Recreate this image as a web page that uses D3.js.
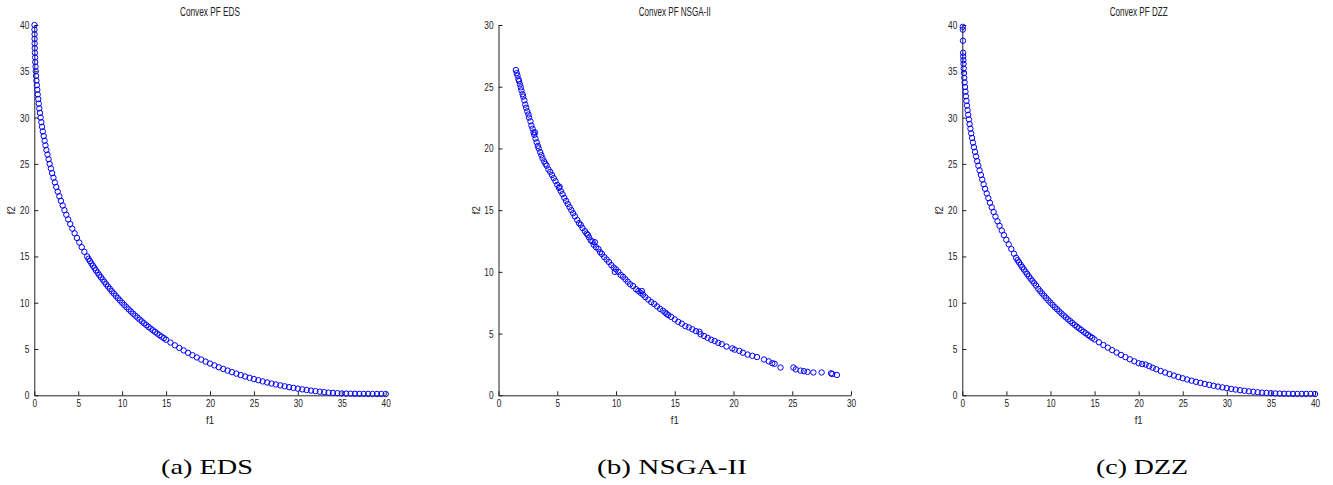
<!DOCTYPE html>
<html>
<head>
<meta charset="utf-8">
<script src="https://cdn.jsdelivr.net/npm/d3@7"></script>
<style>
    body { margin: 0; background: #fff; }
    svg { display: block; }
    .tick text { font-family: "Liberation Sans", Arial, sans-serif; font-size: 11px; fill: #222; }
    .domain, .tick line { stroke: #222; stroke-width: 1; }
    .lbl { font-family: "Liberation Sans", Arial, sans-serif; fill: #222; }
    .caption { font-family: "Liberation Serif", "DejaVu Serif", serif; font-size: 22px; fill: #000; }
</style>
</head>
<body>
<svg id="chart" width="1333" height="485"></svg>
<script>
const titles = ["Convex PF EDS", "Convex PF NSGA-II", "Convex PF DZZ"];
const captions = ["(a) EDS", "(b) NSGA-II", "(c) DZZ"];
const ticks_40 = [0, 5, 10, 15, 20, 25, 30, 35, 40];
const ticks_30 = [0, 5, 10, 15, 20, 25, 30];

// EDS front
const eds_f1 = [0.02,0.02,0.03,0.03,0.04,0.05,0.07,0.09,0.11,0.14,0.17,0.20,0.24,0.29,0.34,0.39,0.45,0.51,0.57,0.64,
    0.72,0.80,0.88,0.97,1.07,1.17,1.27,1.38,1.50,1.63,1.75,1.89,2.03,2.18,2.34,2.50,2.67,2.85,3.03,3.23,
    3.43,3.64,3.86,4.09,4.33,4.59,4.85,5.12,5.40,5.70,6.01,6.17,6.33,6.50,6.67,6.85,7.02,7.21,7.39,7.58,
    7.78,7.98,8.18,8.39,8.60,8.82,9.05,9.28,9.51,9.75,10.0,10.25,10.5,10.75,11.0,11.25,11.5,11.75,12.0,12.25,
    12.5,12.75,13.0,13.25,13.5,13.75,14.0,14.25,14.5,14.75,15.0,15.5,16.0,16.5,17.0,17.5,18.0,18.5,19.0,19.5,
    20.0,20.5,21.0,21.5,22.0,22.5,23.0,23.5,24.0,24.5,25.0,25.5,26.0,26.5,27.0,27.5,28.0,28.5,29.0,29.5,
    30.0,30.5,31.0,31.5,32.0,32.5,33.0,33.5,34.0,34.5,35.0,35.5,36.0,36.5,37.0,37.5,38.0,38.5,39.0,39.5,40.0];
const eds_f2 = [40.0,39.5,39.0,38.5,38.0,37.5,37.0,36.5,36.0,35.5,35.0,34.5,34.0,33.5,33.0,32.5,32.0,31.5,31.0,30.5,
    30.0,29.5,29.0,28.5,28.0,27.5,27.0,26.5,26.0,25.5,25.0,24.5,24.0,23.5,23.0,22.5,22.0,21.5,21.0,20.5,
    20.0,19.5,19.0,18.5,18.0,17.5,17.0,16.5,16.0,15.5,15.0,14.75,14.5,14.25,14.0,13.75,13.5,13.25,13.0,12.75,
    12.5,12.25,12.0,11.75,11.5,11.25,11.0,10.75,10.5,10.25,10.0,9.75,9.51,9.28,9.05,8.82,8.60,8.39,8.18,7.98,
    7.78,7.58,7.39,7.21,7.02,6.85,6.67,6.50,6.33,6.17,6.01,5.70,5.40,5.12,4.85,4.59,4.33,4.09,3.86,3.64,
    3.43,3.23,3.03,2.85,2.67,2.50,2.34,2.18,2.03,1.89,1.75,1.63,1.50,1.38,1.27,1.17,1.07,0.97,0.88,0.80,
    0.72,0.64,0.57,0.51,0.45,0.39,0.34,0.29,0.26,0.23,0.20,0.18,0.17,0.16,0.15,0.15,0.15,0.14,0.14,0.14,0.14];

// NSGA-II front, panel (b)
const nsga_points = [
    [1.48,26.35],[1.55,26.1],[1.62,25.9],[1.7,25.6],[1.75,25.45],[1.82,25.2],[1.9,24.95],[1.95,24.7],[2.05,24.4],[2.1,24.2],
    [2.2,23.9],[2.28,23.55],[2.35,23.3],[2.45,23.0],[2.55,22.75],[2.6,22.5],[2.72,22.2],[2.8,21.85],[2.9,21.6],[2.98,21.3],
    [3.05,21.1],[3.1,21.3],[3.15,20.8],[3.25,20.5],[3.35,20.2],[3.42,20.0],[3.55,19.7],[3.65,19.45],[3.75,19.2],[3.88,18.95],
    [4.0,18.75],[4.1,18.6],[4.25,18.3],[4.4,18.1],[4.55,17.85],[4.7,17.6],[4.85,17.35],[5.0,17.05],[5.15,16.8],[5.2,16.9],
    [5.3,16.55],[5.45,16.3],[5.6,16.0],[5.75,15.75],[5.9,15.5],[6.05,15.25],[6.2,15.0],[6.35,14.75],[6.5,14.5],[6.7,14.2],
    [6.85,13.95],[7.0,13.8],[7.15,13.55],[7.35,13.3],[7.5,13.1],[7.6,13.0],[7.7,12.8],[7.85,12.55],[8.0,12.45],[8.1,12.2],
    [8.2,12.4],[8.3,12.0],[8.5,11.85],[8.65,11.6],[8.8,11.45],[9.0,11.2],[9.2,11.0],[9.4,10.8],[9.6,10.55],[9.8,10.35],
    [9.9,10.0],[10.0,10.2],[10.2,10.0],[10.4,9.75],[10.6,9.6],[10.8,9.4],[11.0,9.2],[11.2,9.0],[11.45,8.85],[11.7,8.6],
    [11.9,8.45],[12.1,8.3],[12.2,8.45],[12.3,8.15],[12.5,7.95],[12.75,7.75],[13.0,7.55],[13.25,7.4],[13.5,7.2],[13.75,7.0],
    [14.0,6.85],[14.2,6.7],[14.3,6.6],[14.45,6.5],[14.7,6.35],[15.0,6.15],[15.3,5.95],[15.6,5.8],[15.9,5.6],[16.2,5.5],
    [16.5,5.35],[16.8,5.2],[17.1,5.15],[17.2,4.95],[17.5,4.8],[17.8,4.65],[18.1,4.5],[18.4,4.4],[18.7,4.25],[19.0,4.15],
    [19.4,3.95],[19.9,3.8],[20.1,3.7],[20.5,3.6],[20.8,3.45],[21.2,3.3],[21.6,3.2],[22.0,3.1],[22.6,2.9],[23.0,2.75],
    [23.3,2.6],[23.5,2.55],[24.0,2.25],[25.1,2.25],[25.3,2.1],[25.7,2.0],[26.0,1.95],[26.3,1.9],[26.8,1.85],[27.5,1.85],
    [28.3,1.78],[28.4,1.72],[28.8,1.65]];

// DZZ front, panel (c)
const dzz_points = [
    [0.05,39.8],[0.06,39.5],[0.08,38.3],[0.09,37.0],[0.10,36.6],[0.12,36.2],[0.14,35.8],[0.16,35.3],[0.19,34.8],[0.22,34.3],
    [0.26,33.8],[0.31,33.3],[0.36,32.8],[0.41,32.3],[0.47,31.8],[0.53,31.3],[0.60,30.8],[0.67,30.3],[0.75,29.8],[0.83,29.3],
    [0.92,28.8],[1.01,28.3],[1.11,27.8],[1.21,27.3],[1.32,26.8],[1.44,26.3],[1.56,25.8],[1.69,25.3],[1.82,24.8],[1.96,24.3],
    [2.11,23.8],[2.26,23.3],[2.42,22.8],[2.59,22.3],[2.77,21.8],[2.95,21.3],[3.14,20.8],[3.34,20.3],[3.55,19.8],[3.76,19.3],
    [3.99,18.8],[4.22,18.3],[4.47,17.8],[4.72,17.3],[4.99,16.8],[5.27,16.3],[5.56,15.8],[5.86,15.3],[6.10,14.85],[6.27,14.6],
    [6.44,14.35],[6.62,14.1],[6.80,13.85],[6.98,13.6],[7.17,13.35],[7.36,13.1],[7.55,12.85],[7.75,12.6],[7.95,12.35],[8.16,12.1],
    [8.37,11.85],[8.62,11.5],[8.84,11.25],[9.06,11.0],[9.29,10.75],[9.52,10.5],[9.76,10.25],[10.0,10.0],[10.25,9.76],[10.5,9.52],
    [10.75,9.29],[11.0,9.06],[11.25,8.84],[11.5,8.62],[11.75,8.41],[12.0,8.2],[12.25,8.0],[12.5,7.8],[12.75,7.6],[13.0,7.41],
    [13.25,7.23],[13.5,7.05],[13.75,6.87],[14.0,6.7],[14.25,6.52],[14.5,6.36],[14.75,6.2],[15.0,6.03],[15.5,5.73],[16.0,5.43],
    [16.5,5.15],[17.0,4.88],[17.5,4.62],[18.0,4.36],[18.5,4.12],[19.0,3.89],[19.5,3.67],[20.0,3.46],[20.4,3.38],[20.8,3.32],
    [21.2,3.15],[21.6,2.98],[22.0,2.82],[22.5,2.63],[23.0,2.46],[23.5,2.29],[24.0,2.13],[24.5,1.98],[25.0,1.84],[25.5,1.71],
    [26.0,1.58],[26.5,1.46],[27.0,1.34],[27.5,1.23],[28.0,1.13],[28.5,1.03],[29.0,0.94],[29.5,0.85],[30.0,0.77],[30.5,0.69],
    [31.0,0.62],[31.5,0.55],[32.0,0.49],[32.5,0.43],[33.0,0.38],[33.5,0.33],[34.0,0.29],[34.5,0.26],[35.0,0.23],[35.5,0.20],
    [36.0,0.18],[36.5,0.17],[37.0,0.16],[37.5,0.15],[38.0,0.15],[38.5,0.15],[39.0,0.15],[39.5,0.15],[40.0,0.14]];

const eds_points = d3.zip(eds_f1, eds_f2);

// layout of the three panels (pixels)
const layout = {
    top: 25,
    bottom: 395.3,
    panels: [
        { left: 34.3, right: 385.7, max: 40, ticks: ticks_40, titleW: 60, capX: 207, capW: 92 },
        { left: 498.5, right: 851, max: 30, ticks: ticks_30, titleW: 72, capX: 672, capW: 150 },
        { left: 962.3, right: 1315, max: 40, ticks: ticks_40, titleW: 58, capX: 1142, capW: 92 },
    ],
};
const series = [eds_points, nsga_points, dzz_points];

const svg = d3.select("#chart");

const narrow = (sel, perChar) => {
    sel.attr("textLength", (d) => String(d).length * perChar)
        .attr("lengthAdjust", "spacingAndGlyphs");
};

layout.panels.forEach((p, i) => {
    const x = d3.scaleLinear().domain([0, p.max]).range([p.left, p.right]);
    const y = d3.scaleLinear().domain([0, p.max]).range([layout.bottom, layout.top]);
    const g = svg.append("g");

    g.append("g")
        .attr("transform", `translate(0,${layout.bottom})`)
        .call(d3.axisBottom(x).tickValues(p.ticks).tickSizeInner(-4).tickSizeOuter(0).tickPadding(4))
        .call((a) => a.selectAll(".tick text").call(narrow, 4.6));

    g.append("g")
        .attr("transform", `translate(${p.left},0)`)
        .call(d3.axisLeft(y).tickValues(p.ticks).tickSizeInner(-4).tickSizeOuter(0).tickPadding(5))
        .call((a) => a.selectAll(".tick text").call(narrow, 4.6));

    g.selectAll("circle")
        .data(series[i])
        .join("circle")
        .attr("cx", (d) => x(d[0]))
        .attr("cy", (d) => y(d[1]))
        .attr("r", 2.7)
        .attr("fill", "none")
        .attr("stroke", "#0000ff")
        .attr("stroke-width", 1);

    const mid = (p.left + p.right) / 2;
    g.append("text")
        .attr("class", "lbl")
        .attr("x", mid)
        .attr("y", 16)
        .attr("text-anchor", "middle")
        .attr("font-size", 12)
        .attr("textLength", p.titleW)
        .attr("lengthAdjust", "spacingAndGlyphs")
        .text(titles[i]);

    g.append("text")
        .attr("class", "lbl")
        .attr("x", mid)
        .attr("y", 424)
        .attr("text-anchor", "middle")
        .attr("font-size", 11)
        .attr("textLength", 8)
        .attr("lengthAdjust", "spacingAndGlyphs")
        .text("f1");

    g.append("text")
        .attr("class", "lbl")
        .attr("transform", `translate(${p.left - 19},${(layout.top + layout.bottom) / 2}) rotate(-90)`)
        .attr("text-anchor", "middle")
        .attr("font-size", 11)
        .attr("textLength", 8)
        .attr("lengthAdjust", "spacingAndGlyphs")
        .text("f2");

    svg.append("text")
        .attr("class", "caption")
        .attr("x", p.capX)
        .attr("y", 474)
        .attr("text-anchor", "middle")
        .attr("textLength", p.capW)
        .attr("lengthAdjust", "spacingAndGlyphs")
        .text(captions[i]);
});
</script>
</body>
</html>
